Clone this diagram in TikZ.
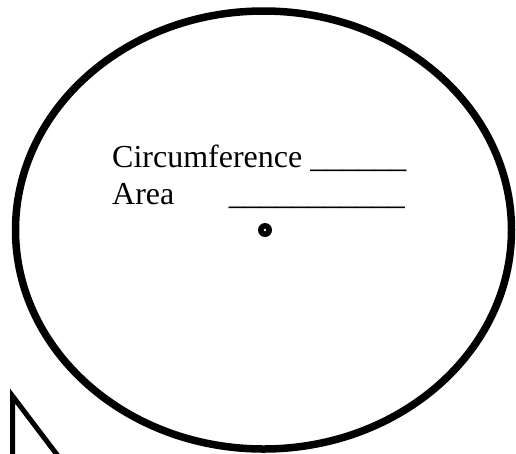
\documentclass[tikz,border=0pt]{standalone}
\usepackage{fontspec}
\setmainfont{Liberation Serif}
\usetikzlibrary{positioning}
\tikzset{
  outline/.style={draw=black,line width=7.5pt},
  wedge/.style={draw=black,line width=5pt,line join=miter},
  formtext/.style={font=\fontsize{32}{38}\selectfont,inner sep=0pt,anchor=base west},
}
\begin{document}
\begin{tikzpicture}[x=1pt,y=-1pt]
  \useasboundingbox (0,0) rectangle (516,453);
  \clip (0,0) rectangle (516,453);
  % circle with its centre
  \draw[outline] (263.5,230) ellipse [x radius=248,y radius=219];
  \fill (265,230) circle (7);
  \fill[white] (265,230) circle (1.3);
  % labels
  \node[formtext] (circ) at (112,167) {Circumference \_\_\_\_\_\_};
  \node[formtext] (area) at (112,204) {Area};
  \node[formtext,anchor=base east] (arealine) at (405,204) {\_\_\_\_\_\_\_\_\_\_\_};
  % corner of the triangle
  \draw[wedge] (12.5,480) -- (12.5,396) -- (77,481);
\end{tikzpicture}
\end{document}
